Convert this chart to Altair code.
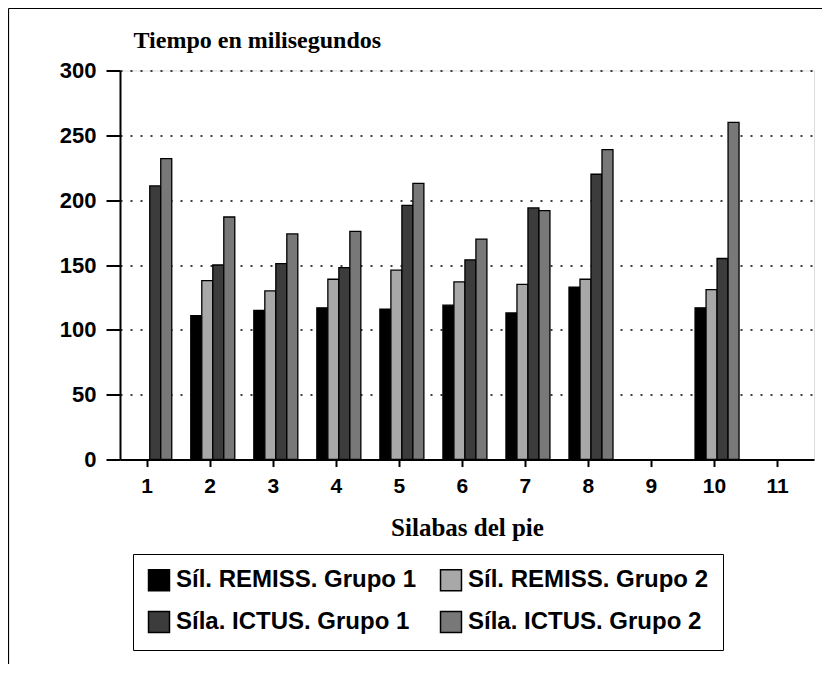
import altair as alt
import pandas as pd

# ---- data ----
silabas = [1, 2, 3, 4, 5, 6, 7, 8, 9, 10, 11]
series = ["Síl. REMISS. Grupo 1", "Síl. REMISS. Grupo 2",
          "Síla. ICTUS. Grupo 1", "Síla. ICTUS. Grupo 2"]
remiss_g1 = [None, 111, 115, 117, 116, 119, 113, 133, None, 117, None]
remiss_g2 = [None, 138, 130, 139, 146, 137, 135, 139, None, 131, None]
ictus_g1 = [211, 150, 151, 148, 196, 154, 194, 220, None, 155, None]
ictus_g2 = [232, 187, 174, 176, 213, 170, 192, 239, None, 260, None]
y_ticks = [0, 50, 100, 150, 200, 250, 300]

colors = ["#000000", "#a8a8a8", "#3c3c3c", "#787878"]

rows = []
for idx, (name, vals) in enumerate(zip(series, [remiss_g1, remiss_g2, ictus_g1, ictus_g2])):
    for s, v in zip(silabas, vals):
        if v is not None:
            rows.append({"silaba": s, "serie": name, "idx": idx, "valor": v})
df = pd.DataFrame(rows)

BAR_W = 0.1745
bars = alt.Chart(df).transform_calculate(
    x0=f"datum.silaba - 0.30 + datum.idx * {BAR_W}",
    x1=f"datum.silaba - 0.30 + (datum.idx + 1) * {BAR_W}",
).mark_bar(stroke="black", strokeWidth=1.3).encode(
    x=alt.X("x0:Q",
            scale=alt.Scale(domain=[0.577, 11.587], nice=False, zero=False),
            axis=alt.Axis(values=silabas, format="d", title="Silabas del pie",
                          grid=False, tickSize=7, tickWidth=2, tickColor="black",
                          domainColor="black", domainWidth=2,
                          labelFont="Liberation Sans", labelFontSize=21,
                          labelFontWeight="bold", labelColor="black",
                          labelPadding=9,
                          titleFont="Liberation Serif", titleFontSize=25,
                          titleFontWeight="bold", titleColor="black",
                          titlePadding=19)),
    x2="x1:Q",
    y=alt.Y("valor:Q",
            scale=alt.Scale(domain=[0, 300], nice=False),
            axis=alt.Axis(values=y_ticks, title="Tiempo en milisegundos",
                          titleAngle=0, titleAlign="left", titleBaseline="alphabetic",
                          titleX=13, titleY=-23,
                          titleFont="Liberation Serif", titleFontSize=24,
                          titleFontWeight="bold", titleColor="black",
                          grid=True, gridDash=[2, 8], gridColor="black", gridWidth=1.6,
                          tickSize=14, tickWidth=2, tickColor="black",
                          domainColor="black", domainWidth=2,
                          labelFont="Liberation Sans", labelFontSize=22,
                          labelFontWeight="bold", labelColor="black",
                          labelPadding=10)),
    y2=alt.datum(0),
    color=alt.Color("serie:N", scale=alt.Scale(domain=series, range=colors),
                    legend=alt.Legend(orient="none", legendX=13, legendY=483.5,
                                      columns=2, direction="horizontal", title=None,
                                      labelFont="Liberation Sans", labelFontSize=24,
                                      labelFontWeight="bold", labelColor="black",
                                      labelLimit=400, labelOffset=5,
                                      symbolType="square", symbolSize=440,
                                      symbolStrokeColor="black", symbolStrokeWidth=1.5,
                                      strokeColor="black", padding=14,
                                      columnPadding=20, rowPadding=14)),
)

# decorative outer frame (left and top edges of the figure)
frame_df = pd.DataFrame({"k": [0]})
frame_left = alt.Chart(frame_df).mark_rule(color="black", strokeWidth=1.2).encode(
    x=alt.value(-111.5), y=alt.value(-62), y2=alt.value(620))
frame_top = alt.Chart(frame_df).mark_rule(color="black", strokeWidth=1.2).encode(
    x=alt.value(-111.5), x2=alt.value(712), y=alt.value(-62))

chart = alt.layer(bars, frame_left, frame_top).properties(
    width=694, height=389,
    autosize=alt.AutoSizeParams(type="none"),
    padding={"left": 112, "top": 62.5, "right": 8, "bottom": 204},
).configure_view(stroke="black", strokeWidth=2).configure(background="white")

chart.save("out.html", embed_options={"renderer": "svg", "actions": False})
